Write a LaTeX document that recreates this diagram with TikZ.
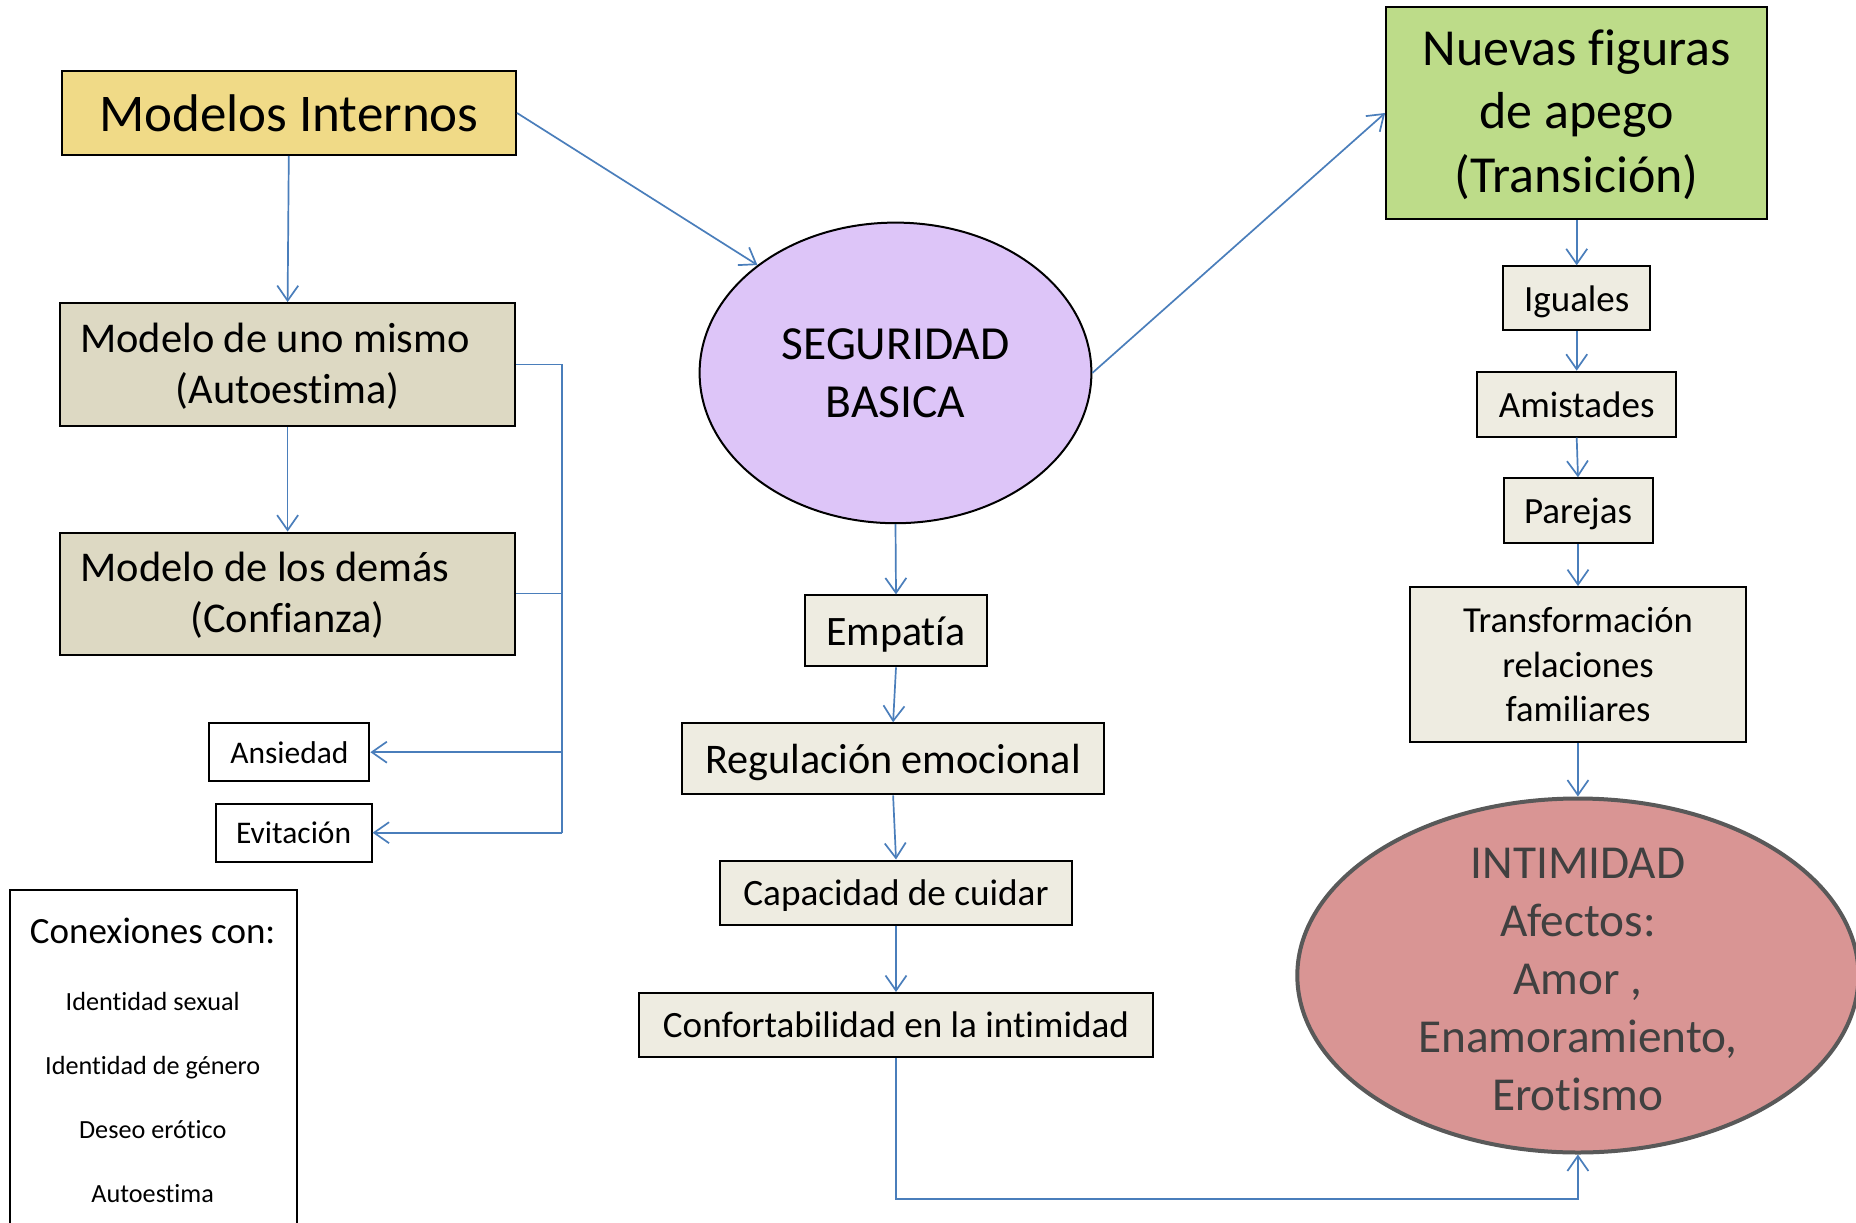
\documentclass[tikz,border=0pt]{standalone}
\usepackage{fontspec}
\setmainfont{Carlito}[Ligatures=NoCommon]
\usetikzlibrary{arrows.meta,shapes.geometric}
\definecolor{conn}{HTML}{4A7EBB}
\definecolor{mifill}{HTML}{F0DA87}
\definecolor{tanfill}{HTML}{DDD9C3}
\definecolor{lightfill}{HTML}{EEECE1}
\definecolor{sbfill}{HTML}{DDC5F8}
\definecolor{nffill}{HTML}{BDDC89}
\definecolor{intfill}{HTML}{D99594}
\definecolor{intline}{HTML}{595959}
\definecolor{inttext}{HTML}{404040}
\tikzset{
  box/.style={draw=black, line width=2pt, rectangle, inner sep=0pt, align=center},
  one/.style={text depth=0pt},
  oval/.style={ellipse, inner sep=0pt, align=center},
  conline/.style={draw=conn, line width=1.7pt},
  arr/.style={conline, -{Straight Barb[length=15pt,width=21pt,line width=1.7pt]}},
}
\begin{document}
\begin{tikzpicture}[x=1pt,y=-1pt]
\useasboundingbox[fill=white] (0,0) rectangle (1856,1223);

% left column
\node[box, one, fill=mifill, minimum width=454.5pt, minimum height=84pt, font=\fontsize{53}{64}\selectfont] (mi) at (288.8,113) {Modelos Internos};
\node[box, text depth=3pt, fill=tanfill, minimum width=454.5pt, minimum height=123pt, font=\fontsize{42.4}{51.5}\selectfont] (mu) at (287.6,364.6) {Modelo de uno mismo\hspace*{25pt}\\(Autoestima)};
\node[box, text depth=3pt, fill=tanfill, minimum width=454.5pt, minimum height=122pt, font=\fontsize{42.4}{51.5}\selectfont] (md) at (287.6,593.6) {Modelo de los demás\hspace*{45pt}\\(Confianza)};
\node[box, one, fill=white, minimum width=160pt, minimum height=58pt, font=\fontsize{31.5}{38}\selectfont] (ans) at (289.4,752.2) {Ansiedad};
\node[box, one, fill=white, minimum width=156pt, minimum height=58pt, font=\fontsize{31.5}{38}\selectfont] (evi) at (293.6,832.7) {Evitación};

% Conexiones box
\draw[black, line width=2pt] (9.5,1245) -- (9.5,890.1) -- (297.1,890.1) -- (297.1,1245);
\node[one, font=\fontsize{37}{45}\selectfont] (con) at (152.7,930.4) {Conexiones con:};
\node[one, font=\fontsize{26.2}{32}\selectfont] (c1) at (152.7,1001.4) {Identidad sexual};
\node[one, font=\fontsize{26.2}{32}\selectfont] (c2) at (152.7,1065.3) {Identidad de género};
\node[one, font=\fontsize{26.2}{32}\selectfont] (c3) at (152.7,1129.3) {Deseo erótico};
\node[one, font=\fontsize{26.2}{32}\selectfont] (c4) at (152.7,1193.2) {Autoestima};

% middle column
\node[oval, draw=black, line width=2pt, fill=sbfill, minimum width=391.8pt, minimum height=300.6pt, font=\fontsize{47.5}{58}\selectfont] (sb) at (895.5,372.9) {SEGURIDAD\\BASICA};
\node[box, one, fill=lightfill, minimum width=182.3pt, minimum height=71pt, font=\fontsize{41.9}{51}\selectfont] (emp) at (896,630.9) {Empatía};
\node[box, one, fill=lightfill, minimum width=422.6pt, minimum height=71pt, font=\fontsize{42.2}{51}\selectfont] (reg) at (893.1,758.8) {Regulación emocional};
\node[box, one, fill=lightfill, minimum width=352.7pt, minimum height=64pt, font=\fontsize{37.2}{45}\selectfont] (cap) at (896,892.5) {Capacidad de cuidar};
\node[box, one, fill=lightfill, minimum width=513.7pt, minimum height=64pt, font=\fontsize{37.1}{45}\selectfont] (conf) at (896,1025) {Confortabilidad en la intimidad};

% right column
\node[box, text depth=4pt, fill=nffill, minimum width=381.2pt, minimum height=212pt, font=\fontsize{52}{63.5}\selectfont] (nf) at (1576.7,113) {Nuevas figuras\\de apego\\(Transición)};
\node[box, one, fill=lightfill, minimum width=146.8pt, minimum height=64pt, font=\fontsize{37}{45}\selectfont] (ig) at (1576.7,298.3) {Iguales};
\node[box, one, fill=lightfill, minimum width=198.9pt, minimum height=65pt, font=\fontsize{37}{45}\selectfont] (am) at (1576.7,404.2) {Amistades};
\node[box, one, fill=lightfill, minimum width=149pt, minimum height=65pt, font=\fontsize{37}{45}\selectfont] (pa) at (1578,510.8) {Parejas};
\node[box, fill=lightfill, minimum width=336pt, minimum height=155pt, font=\fontsize{36.6}{44.6}\selectfont] (tr) at (1578,664.6) {Transformación\\relaciones\\familiares};
\node[oval, draw=intline, line width=4pt, fill=intfill, minimum width=561.2pt, minimum height=354pt] (int) at (1577.9,975.5) {};
\node[align=center, inner sep=0pt, text=inttext, font=\fontsize{47.3}{58}\selectfont] (intt) at (1577.9,979) {INTIMIDAD\\Afectos:\\Amor ,\\Enamoramiento,\\Erotismo};

% connectors left
\draw[arr] (mi.south) -- (mu.north);
\draw[arr] (mu.south) -- (md.north);
\coordinate (bt) at (562.3,364.6);
\coordinate (bb) at (562.3,832.7);
\draw[conline] (mu.east) -- (bt) -- (bb);
\draw[conline] (md.east) -- (md.east -| bt);
\draw[arr] (ans.east -| bt) -- (ans.east);
\draw[arr] (bb) -- (evi.east);

% connectors middle
\draw[arr] (mi.east) -- (sb.142);
\draw[arr] (sb.east) -- (nf.west);
\draw[arr] (sb.south) -- (emp.north);
\draw[arr] (emp.south) -- (reg.north);
\draw[arr] (reg.south) -- (cap.north);
\draw[arr] (cap.south) -- (conf.north);
\coordinate (cb) at (1577.9,1199.1);
\draw[arr] (conf.south) |- (cb) -- (int.south);

% connectors right
\draw[arr] (nf.south) -- (ig.north);
\draw[arr] (ig.south) -- (am.north);
\draw[arr] (am.south) -- (pa.north);
\draw[arr] (pa.south) -- (tr.north);
\draw[arr] (tr.south) -- (int.north);
\end{tikzpicture}
\end{document}
